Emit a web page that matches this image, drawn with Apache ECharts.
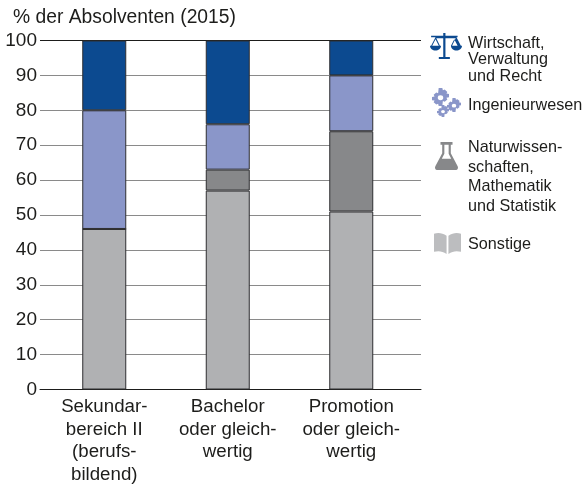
<!DOCTYPE html>
<html><head><meta charset="utf-8">
<style>html,body{margin:0;padding:0;background:#fff}#c{width:584px;height:487px}</style>
<script src="https://cdn.jsdelivr.net/npm/echarts@6/dist/echarts.min.js"></script>
</head><body><div id="c"></div>
<script>
const categories = ['Sekundar-\nbereich II\n(berufs-\nbildend)', 'Bachelor\noder gleich-\nwertig', 'Promotion\noder gleich-\nwertig'];
const sonstige = [46, 57, 51];
const natur = [0, 6, 23];
const ingenieur = [34, 13, 16];
const wirtschaft = [20, 24, 10];
const yTicks = [0, 10, 20, 30, 40, 50, 60, 70, 80, 90, 100];
const yTitle = '% der Absolventen (2015)';
const colors = { wirtschaft: '#0c4a90', ingenieur: '#8a96c9', natur: '#87888a', sonstige: '#b0b1b3' };
const FONT = 'Liberation Sans';

function ser(name, data, color) {
  return { name, type: 'bar', stack: 'a', data, barWidth: 44, xAxisIndex: 0, yAxisIndex: 0, z: 5,
    itemStyle: { color, borderColor: '#2e2e30', borderWidth: 1 } };
}
function txt(x, y, lines, lh) {
  return { type: 'text', left: x, top: y, z: 10,
    style: { text: lines, fontFamily: FONT, fontSize: 16.2, lineHeight: lh, fill: '#1d1d1b' } };
}
const scalesPath = 'M14 0h2v3h11v1.5h-1l4 9h1c0 3-2.500 5-5 5s-5-2-5-5h1l3.300-8H16v20h4v2H10v-2h4V5.500H7.700l3.300 8h1c0 3-2.500 5-5 5s-5-2-5-5h1l4-9H3V3h11zM7 6.500l-3 7h6zm17 0l-3 7h6z';
const gearPath = 'M8-1h4l.6 2.800 2-.9 2.900 2.900-1 2 2.800.6v4l-2.800.6 1 2-2.900 2.900-2-1L12 21H8l-.6-2.800-2 1-2.900-2.900 1-2L.7 14v-4l2.800-.6-1-2L5.400 4.500l2 1zM10 8a3 3 0 1 0 0 6 3 3 0 0 0 0-6z';
const flaskPath = 'M6 0h14v3h-2v9l8 14c1 2 0 4-2 4H2c-2 0-3-2-2-4l8-14V3H6zM10.500 3v9.500L7.500 18h11l-3-5.500V3z';
const bookPath = 'M0 2c4-1 9-1 13.500 2v17C9 18 4 18 0 19zM15.500 4C20 1 25 1 29 2v17c-4-1-9-1-13.500 2z';
const icons = [
  [430, 33, 32, 26, scalesPath, colors.wirtschaft],
  [432, 88, 17, 18, gearPath, colors.ingenieur],
  [447, 98, 14, 14, gearPath, colors.ingenieur],
  [437, 105, 12, 12, gearPath, colors.ingenieur],
  [435, 142, 23, 28, flaskPath, colors.natur],
  [434, 233, 27, 21, bookPath, '#bcbdbf']
];

const chart = echarts.init(document.getElementById('c'), null, { renderer: 'canvas' });
chart.setOption({
  animation: false,
  backgroundColor: '#fff',
  grid: [
    { left: 42.5, width: 370.5, top: 40.5, height: 349, outerBoundsMode: 'none' },
    { left: 40, width: 381, top: 40.5, height: 349, outerBoundsMode: 'none' }
  ],
  xAxis: [
    { type: 'category', gridIndex: 0, data: categories, axisLine: { show: false }, axisTick: { show: false },
      axisLabel: { interval: 0, fontFamily: FONT, fontSize: 18.7, lineHeight: 22.7, color: '#1d1d1b', margin: 6, hideOverlap: false } },
    { type: 'category', gridIndex: 1, data: categories, axisLine: { lineStyle: { color: '#1d1d1b', width: 1 } }, axisTick: { show: false }, axisLabel: { show: false } }
  ],
  yAxis: [
    { type: 'value', gridIndex: 0, min: 0, max: 100, interval: 10, axisLabel: { show: false }, axisLine: { show: false }, axisTick: { show: false }, splitLine: { show: false } },
    { type: 'value', gridIndex: 1, min: 0, max: 100, interval: 10, axisLine: { show: false }, axisTick: { show: false },
      axisLabel: { fontFamily: FONT, fontSize: 19, color: '#1d1d1b', margin: 3, formatter: v => yTicks.includes(v) ? String(v) : '' },
      splitLine: { show: true, lineStyle: { color: '#8a8a8a', width: 1 } } }
  ],
  series: [
    ser('Sonstige', sonstige, colors.sonstige),
    ser('Naturwissenschaften, Mathematik und Statistik', natur, colors.natur),
    ser('Ingenieurwesen', ingenieur, colors.ingenieur),
    ser('Wirtschaft, Verwaltung und Recht', wirtschaft, colors.wirtschaft),
    { type: 'line', xAxisIndex: 1, yAxisIndex: 1, data: [], markLine: { silent: true, symbol: 'none', label: { show: false }, z: 1,
        lineStyle: { color: '#1d1d1b', width: 1, type: 'solid' }, data: [{ yAxis: 100 }] } },
    { type: 'custom', coordinateSystem: 'none', silent: true, z: 10, data: icons.map((_, i) => i),
      renderItem: (p, api) => {
        const [x, y, width, height, pathData, fill] = icons[api.value(0)];
        return { type: 'path', shape: { pathData, x, y, width, height, layout: 'cover' }, style: { fill } };
      } }
  ],
  graphic: [
    { type: 'text', left: 13, top: 8, z: 10, style: { text: yTitle, fontFamily: FONT, fontSize: 19.3, fill: '#1d1d1b' } },
    txt(468, 35, 'Wirtschaft,\nVerwaltung\nund Recht', 16.5),
    txt(468, 97, 'Ingenieurwesen', 16.5),
    txt(468, 138, 'Naturwissen-\nschaften,\nMathematik\nund Statistik', 19.5),
    txt(468, 236, 'Sonstige', 16.5)
  ]
});
</script></body></html>
